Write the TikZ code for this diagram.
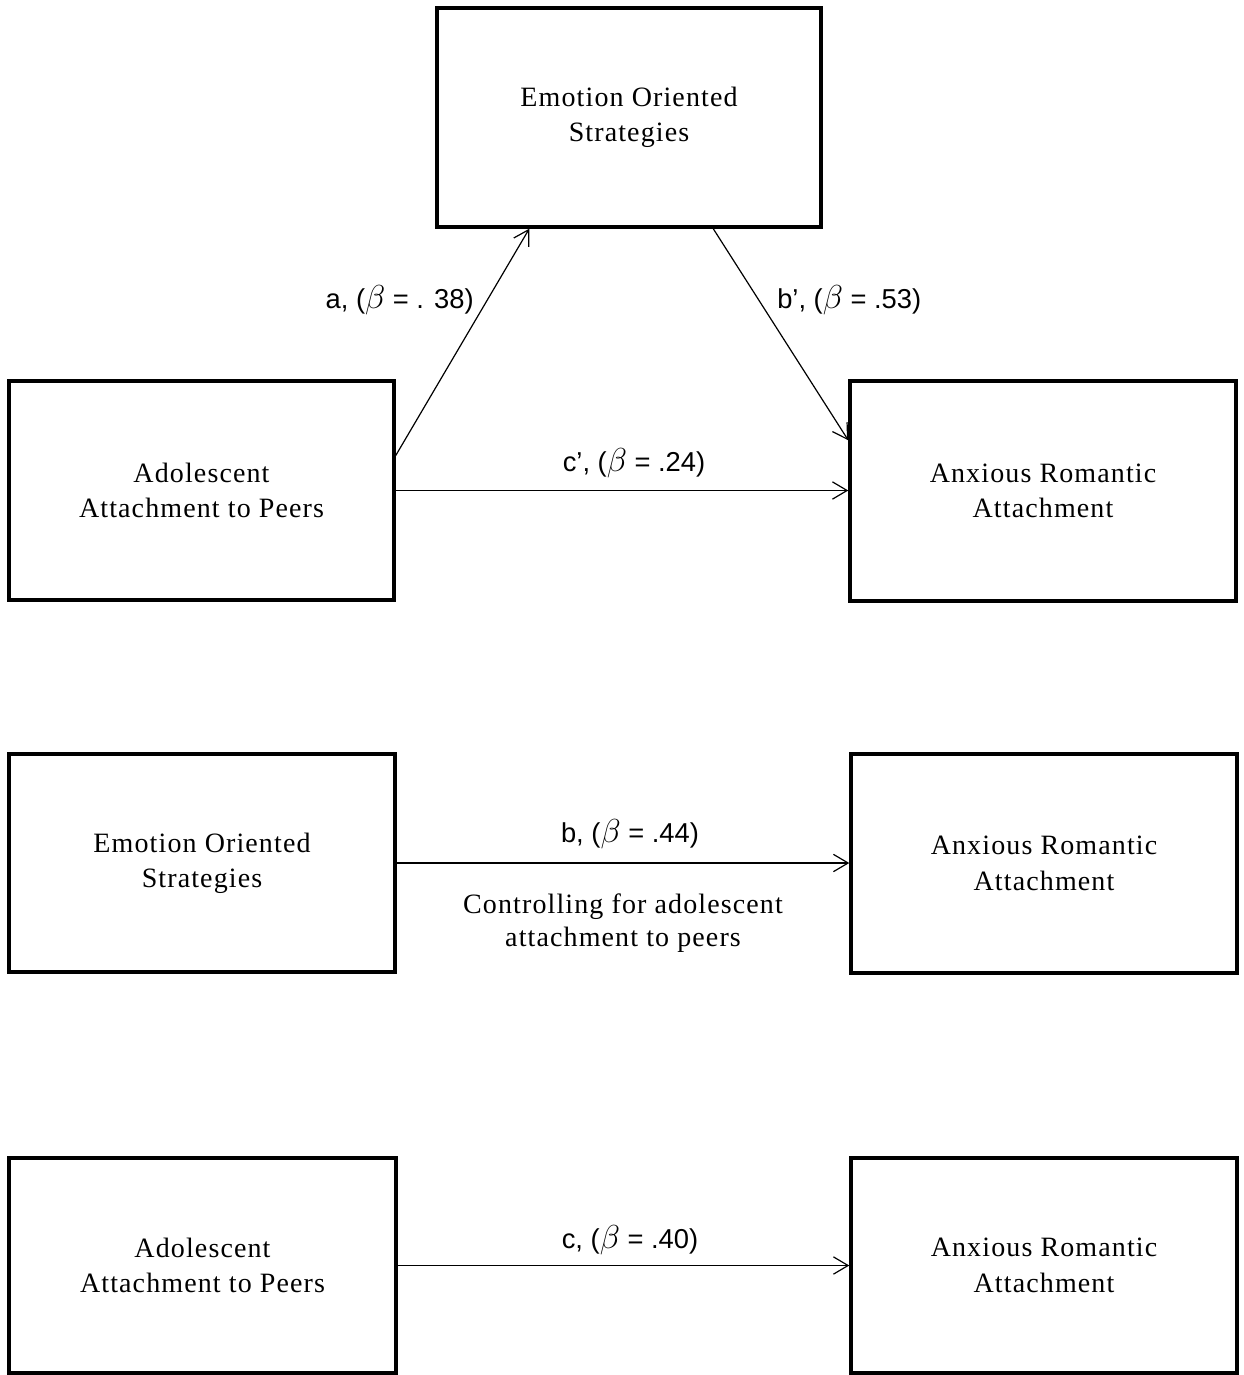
\documentclass[tikz,border=0pt]{standalone}
\usepackage{fontspec}
\setmainfont{Liberation Serif}
\setsansfont{Liberation Sans}
\newfontfamily\spacedserif[LetterSpace=4]{Liberation Serif}
\newcommand\betasym{{\fontsize{23}{24}\selectfont$\beta$}}
\usetikzlibrary{arrows.meta,calc}
\tikzset{
  box/.style={draw, line width=2.6pt, rectangle, align=center, font=\spacedserif\fontsize{21}{26.5}\selectfont, inner sep=0pt},
  conn/.style={line width=0.9pt, -{Straight Barb[length=11pt,width=13pt,line width=0.9pt]}},
  lbl/.style={font=\sffamily\fontsize{20.5}{25}\selectfont, inner sep=0pt},
}
\begin{document}
\begin{tikzpicture}[x=0.75pt,y=-0.75pt]
\useasboundingbox (0,0) rectangle (1244,1375);
% row 1
\node[box, minimum width=384*0.75pt, minimum height=219*0.75pt] (T) at (629,117.5) {Emotion Oriented\\Strategies};
\node[box, minimum width=385*0.75pt, minimum height=219*0.75pt] (L1) at (201.5,490.5) {Adolescent\\Attachment to Peers};
\node[box, minimum width=386*0.75pt, minimum height=220*0.75pt] (R1) at (1043,491) {Anxious Romantic\\Attachment};
\draw[conn] ($(L1.east)+(0,-35)$) -- ($(T.south west)+(94,0)$);
\draw[conn] ($(T.south west)+(278,0)$) -- ($(R1.north west)+(0,61)$);
\draw[conn] (L1.east) -- (L1.east -| R1.west);
\node[lbl, anchor=east] (la) at (474,300) {a, (\betasym\ = . 38)};
\node[lbl, anchor=west] (lb1) at (777,300) {b', (\betasym\ = .53)};
\node[lbl] (lc1) at (634,463) {c', (\betasym\ = .24)};
% row 2
\node[box, minimum width=386*0.75pt, minimum height=218*0.75pt] (L2) at (202,863) {Emotion Oriented\\Strategies};
\node[box, minimum width=386*0.75pt, minimum height=219*0.75pt] (R2) at (1044,863.5) {Anxious Romantic\\Attachment};
\draw[conn] (L2.east) -- (L2.east -| R2.west);
\node[lbl] (lb) at (630,834) {b, (\betasym\ = .44)};
\node[align=center, inner sep=0pt, font=\spacedserif\fontsize{21}{25}\selectfont] (ctrl) at (623,923) {Controlling for adolescent\\attachment to peers};
% row 3
\node[box, minimum width=387*0.75pt, minimum height=215*0.75pt] (L3) at (202.5,1265.5) {Adolescent\\Attachment to Peers};
\node[box, minimum width=386*0.75pt, minimum height=215*0.75pt] (R3) at (1044,1265.5) {Anxious Romantic\\Attachment};
\draw[conn] (L3.east) -- (L3.east -| R3.west);
\node[lbl] (lc) at (630,1240) {c, (\betasym\ = .40)};
\end{tikzpicture}
\end{document}
